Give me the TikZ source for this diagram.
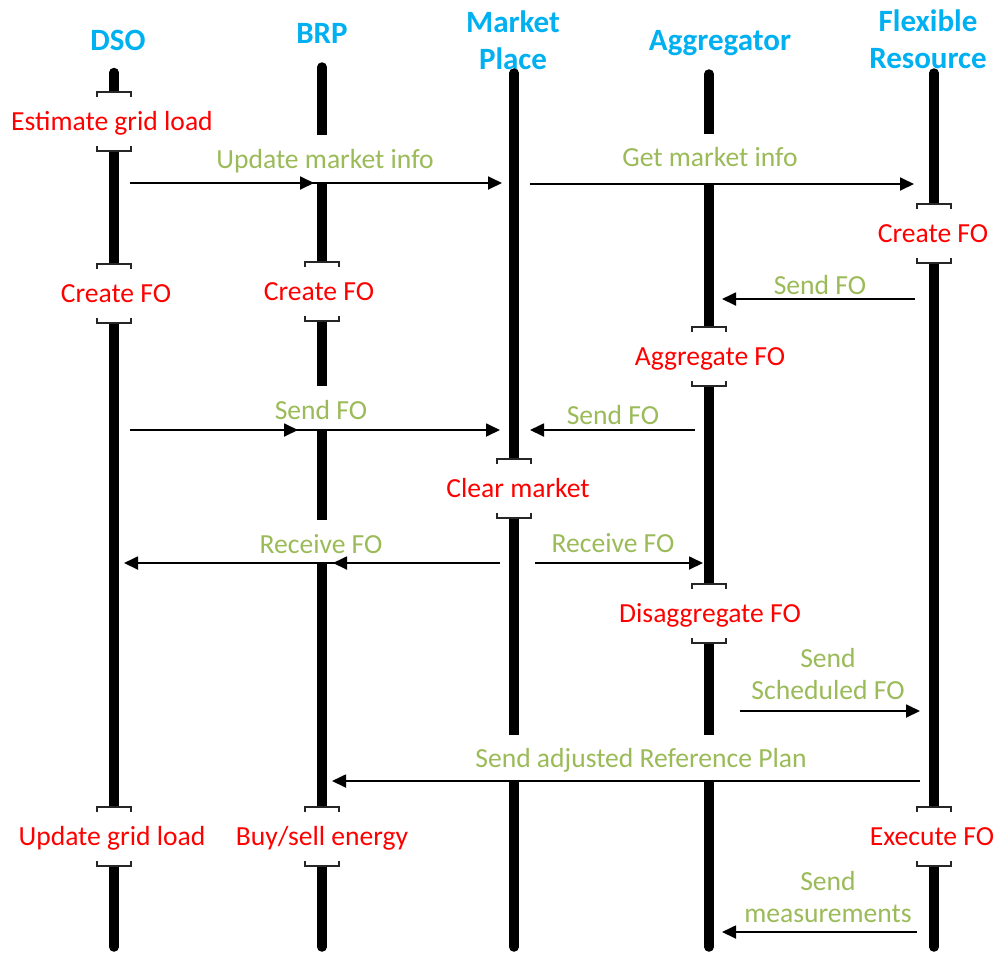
\documentclass[tikz,border=0pt]{standalone}
\usepackage{fontspec}
\setmainfont{Carlito}
\usetikzlibrary{arrows.meta}
\definecolor{hdr}{RGB}{0,176,240}
\definecolor{act}{RGB}{255,0,0}
\definecolor{msg}{RGB}{155,187,89}
\tikzset{
 header/.style={font=\fontsize{31}{37}\selectfont\bfseries, text=hdr, align=center, inner sep=0pt},
 lifeline/.style={line width=9.5pt, line cap=round},
 actlabel/.style={font=\fontsize{27.6}{32}\selectfont, text=act, fill=white, inner xsep=1pt, inner ysep=0pt},
 msglabel/.style={font=\fontsize{27.6}{32}\selectfont, text=msg, fill=white, inner xsep=3pt, inner ysep=0pt, align=center},
 msgarrow/.style={line width=1.8pt, -{Triangle[length=14pt,width=13pt]}},
 bracket/.style={line width=2pt, draw=black!85},
}
% #1 name, #2 lifeline x, #3 text x, #4 top of activity, #5 text
\newcommand{\activity}[5]{%
 \node[actlabel, anchor=base, text height=38.5pt, text depth=20.5pt] (#1) at (#3,{#4+38.5}) {#5};
 \draw[bracket] ({#2-17},{#4+5}) -- ({#2-17},#4) -- ({#2+17},#4) -- ({#2+17},{#4+5});
 \draw[bracket] ({#2-17},{#4+54}) -- ({#2-17},{#4+59}) -- ({#2+17},{#4+59}) -- ({#2+17},{#4+54});
}
% #1 name, #2 x, #3 baseline, #4 top, #5 bottom, #6 text
\newcommand{\msgtext}[6]{%
 \pgfmathsetmacro{\mth}{#3-#4}\pgfmathsetmacro{\mtd}{#5-#3}%
 \node[msglabel, anchor=base, text height=\mth pt, text depth=\mtd pt] (#1) at (#2,#3) {#6};
}
\begin{document}
\begin{tikzpicture}[x=1pt,y=-1pt]
\useasboundingbox (0,0) rectangle (993,954);
% headers
\node[header, anchor=base] (hDSO) at (118,50) {DSO};
\node[header, anchor=base] (hBRP) at (322,43) {BRP};
\node[header] (hMP) at (513,40) {Market\\Place};
\node[header, anchor=base] (hAGG) at (720,50) {Aggregator};
\node[header] (hFR) at (928,39) {Flexible\\Resource};
% lifelines
\coordinate (dsoT) at (114,72.5); \coordinate (dsoB) at (114,947);
\coordinate (brpT) at (322,67);   \coordinate (brpB) at (322,947);
\coordinate (mpT)  at (514,73);   \coordinate (mpB)  at (514,947);
\coordinate (aggT) at (709,74);   \coordinate (aggB) at (709,947);
\coordinate (frT)  at (934,73);   \coordinate (frB)  at (934,947);
\draw[lifeline] (dsoT) -- (dsoB);
\draw[lifeline] (brpT) -- (brpB);
\draw[lifeline] (mpT) -- (mpB);
\draw[lifeline] (aggT) -- (aggB);
\draw[lifeline] (frT) -- (frB);
% activities
\activity{aEst}{114}{112}{92}{Estimate grid load}
\activity{aCrD}{114}{116}{264}{Create FO}
\activity{aCrB}{322}{319}{262}{Create FO}
\activity{aCrF}{934}{933}{204}{Create FO}
\activity{aAgg}{709}{710}{327}{Aggregate FO}
\activity{aClr}{514}{518}{459}{Clear market}
\activity{aDis}{709}{710}{584}{Disaggregate FO}
\activity{aUpd}{114}{112}{807}{Update grid load}
\activity{aBuy}{322}{322}{807}{Buy/sell energy}
\activity{aExe}{934}{932}{807}{Execute FO}
% message labels
\msgtext{mUpd}{325}{168}{135}{183}{Update market info}
\msgtext{mGet}{710}{166}{134}{184}{Get market info}
\msgtext{mSnd1}{820}{294}{268}{299}{Send FO}
\msgtext{mSnd2}{321}{419}{386}{430}{Send FO}
\msgtext{mSnd3}{613}{424}{395}{430}{Send FO}
\msgtext{mRcv1}{321}{553}{520}{563}{Receive FO}
\msgtext{mRcv2}{613}{552}{525}{563}{Receive FO}
\msgtext{mAdj}{641}{767}{735}{781}{Send adjusted Reference Plan}
\node[msglabel] (mSch) at (828,674) {Send\\Scheduled FO};
\node[msglabel] (mMea) at (828,897) {Send\\measurements};
% arrow end points
\coordinate (u0) at (130,183); \coordinate (u1) at (314,183); \coordinate (u2) at (502,183);
\coordinate (g0) at (530,184); \coordinate (g1) at (914,184);
\coordinate (s0) at (915,299); \coordinate (s1) at (722,299);
\coordinate (f0) at (130,430); \coordinate (f1) at (298,430); \coordinate (f2) at (500,430);
\coordinate (h0) at (695,430); \coordinate (h1) at (530,430);
\coordinate (r0) at (500,563); \coordinate (r1) at (124,563); \coordinate (r2) at (333,563);
\coordinate (q0) at (535,563); \coordinate (q1) at (703,563);
\coordinate (c0) at (740,711); \coordinate (c1) at (920,711);
\coordinate (p0) at (920,781); \coordinate (p1) at (332,781);
\coordinate (z0) at (917,932); \coordinate (z1) at (722,932);
% arrows
\draw[msgarrow] (u0) -- (u2);
\draw[msgarrow] (u0) -- (u1);
\draw[msgarrow] (g0) -- (g1);
\draw[msgarrow] (s0) -- (s1);
\draw[msgarrow] (f0) -- (f2);
\draw[msgarrow] (f0) -- (f1);
\draw[msgarrow] (h0) -- (h1);
\draw[msgarrow] (r0) -- (r1);
\draw[msgarrow] (r0) -- (r2);
\draw[msgarrow] (q0) -- (q1);
\draw[msgarrow] (c0) -- (c1);
\draw[msgarrow] (p0) -- (p1);
\draw[msgarrow] (z0) -- (z1);
\end{tikzpicture}
\end{document}
